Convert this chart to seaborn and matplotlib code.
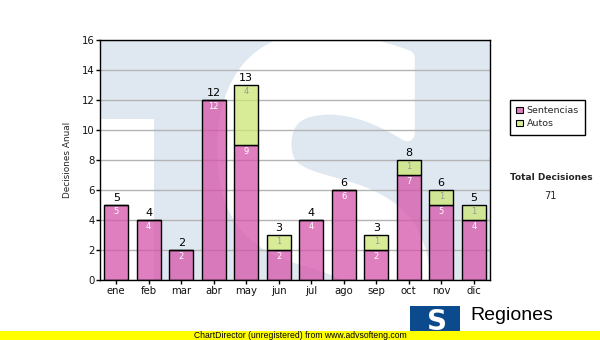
import matplotlib
matplotlib.use("Agg")
import matplotlib.pyplot as plt
import seaborn as sns
import pandas as pd
from matplotlib.patches import Rectangle, PathPatch, Patch
from matplotlib.textpath import TextPath
from matplotlib.font_manager import FontProperties
from matplotlib.transforms import Affine2D

# Monthly decisions
months = ["ene", "feb", "mar", "abr", "may", "jun", "jul", "ago", "sep", "oct", "nov", "dic"]
sentencias = [5, 4, 2, 12, 9, 2, 4, 6, 2, 7, 5, 4]
autos = [0, 0, 0, 0, 4, 1, 0, 0, 1, 1, 1, 1]
series_names = ["Sentencias", "Autos"]
y_ticks = [0, 2, 4, 6, 8, 10, 12, 14, 16]

totals = [s + a for s, a in zip(sentencias, autos)]
grand_total = sum(totals)

W, H = 600, 340


def fx(x):
    return x / W


def fy(y):
    return 1 - y / H


PINK = (0.84, 0.33, 0.67, 0.75)
GREEN = (0.80, 0.90, 0.46, 0.75)
BG_BLUE = "#dfe8f1"

sns.set_style("white")
plt.rcParams["font.family"] = ["DejaVu Sans"]

fig = plt.figure(figsize=(W / 100, H / 100), dpi=100)
ax = fig.add_axes([fx(100), 1 - 280 / H, 390 / W, 240 / H])
ax.set_facecolor(BG_BLUE)

# Background logo watermark: white "S" beside the stem of a "T"
ax.add_patch(Rectangle((0, 0), 0.138, 0.67, transform=ax.transAxes,
                       facecolor="white", edgecolor="none", zorder=0.2))
tp = TextPath((0, 0), "S", size=1, prop=FontProperties(family="DejaVu Sans", weight="bold"))
ext = tp.get_extents()
sx0, sx1, sy0, sy1 = 0.32, 0.83, -0.55, 1.0
tr = (Affine2D().translate(-ext.x0, -ext.y0)
      .scale((sx1 - sx0) / ext.width, (sy1 - sy0) / ext.height)
      .translate(sx0, sy0) + ax.transAxes)
ax.add_patch(PathPatch(tp, transform=tr, facecolor="white", edgecolor="white",
                       linewidth=11, joinstyle="round", zorder=0.2))

df = pd.DataFrame({"mes": months, "Sentencias": sentencias, "Autos": autos})

sns.barplot(data=df, x="mes", y="Sentencias", order=months, width=0.74,
            color=PINK[:3], saturation=1, facecolor=PINK, edgecolor="black",
            linewidth=1, ax=ax, zorder=2)
sns.barplot(data=df, x="mes", y="Autos", order=months, width=0.74,
            bottom=df["Sentencias"].to_numpy(),
            color=GREEN[:3], saturation=1, facecolor=GREEN, edgecolor="black",
            linewidth=1, ax=ax, zorder=2)

# Value labels
for i, (s, a, t) in enumerate(zip(sentencias, autos, totals)):
    ax.annotate(str(s), xy=(i, s), xytext=(0, -4.6), textcoords="offset points",
                ha="center", va="center", fontsize=6, color="white", zorder=5)
    if a:
        ax.annotate(str(a), xy=(i, t), xytext=(0, -4.6), textcoords="offset points",
                    ha="center", va="center", fontsize=6, color="#9a9a9a", zorder=5)
    ax.annotate(str(t), xy=(i, t), xytext=(0, 4.8), textcoords="offset points",
                ha="center", va="center", fontsize=8, color="black", zorder=5)

ax.set_ylim(0, 16)
ax.set_xlim(-0.5, len(months) - 0.5)
ax.set_yticks(y_ticks)
ax.set_axisbelow(True)
ax.yaxis.grid(True, color="#b4b4b4", linewidth=1, zorder=0.5)
ax.xaxis.grid(False)
for sp in ax.spines.values():
    sp.set_color("black")
    sp.set_linewidth(1)
    sp.set_visible(True)
ax.tick_params(axis="both", direction="out", length=3, width=1, color="black",
               labelsize=7.3, labelcolor="#111111", pad=1.5)
ax.tick_params(axis="y", left=True, pad=1)
ax.tick_params(axis="x", bottom=True)
ax.set_xlabel("")
ax.set_ylabel("Decisiones Anual", fontsize=6.4, labelpad=7)

# Legend
handles = [Patch(facecolor=PINK, edgecolor="black", linewidth=0.8),
           Patch(facecolor=GREEN, edgecolor="black", linewidth=0.8)]
leg = fig.legend(handles, series_names, loc="upper left",
                 bbox_to_anchor=(fx(510), fy(100)), frameon=True, fancybox=False,
                 edgecolor="black", framealpha=1, fontsize=6.8, handlelength=0.7,
                 handleheight=0.7, handletextpad=0.4, borderpad=0.65,
                 labelspacing=0.45, borderaxespad=0)
leg.get_frame().set_linewidth(1)

fig.text(fx(551), fy(178), "Total Decisiones", ha="center", va="center",
         fontsize=6.5, fontweight="bold")
fig.text(fx(550), fy(196), str(grand_total), ha="center", va="center", fontsize=7)

# Footer logo
fig.add_artist(Rectangle((fx(410), fy(340)), 50 / W, 34 / H, transform=fig.transFigure,
                         facecolor="#0b4a8c", edgecolor="none", zorder=3))
fig.text(fx(437), fy(322), "S", ha="center", va="center", fontsize=20,
         fontweight="bold", color="white", zorder=4)
fig.text(fx(470), fy(316), "Regiones", ha="left", va="center", fontsize=14,
         family="Liberation Sans", color="black", zorder=4)
fig.text(fx(470), fy(336), "Tribunal Supremo de Justicia", ha="left", va="center",
         fontsize=7, family="Liberation Sans", color="black", zorder=4)

# Unregistered banner
fig.add_artist(Rectangle((0, 0), 1, 9 / H, transform=fig.transFigure,
                         facecolor="#ffff00", edgecolor="none", zorder=10))
fig.text(0.5, fy(335.5), "ChartDirector (unregistered) from www.advsofteng.com",
         ha="center", va="center", fontsize=6.2, family="Liberation Sans",
         color="black", zorder=11)

fig.savefig("out.png", dpi=100)
